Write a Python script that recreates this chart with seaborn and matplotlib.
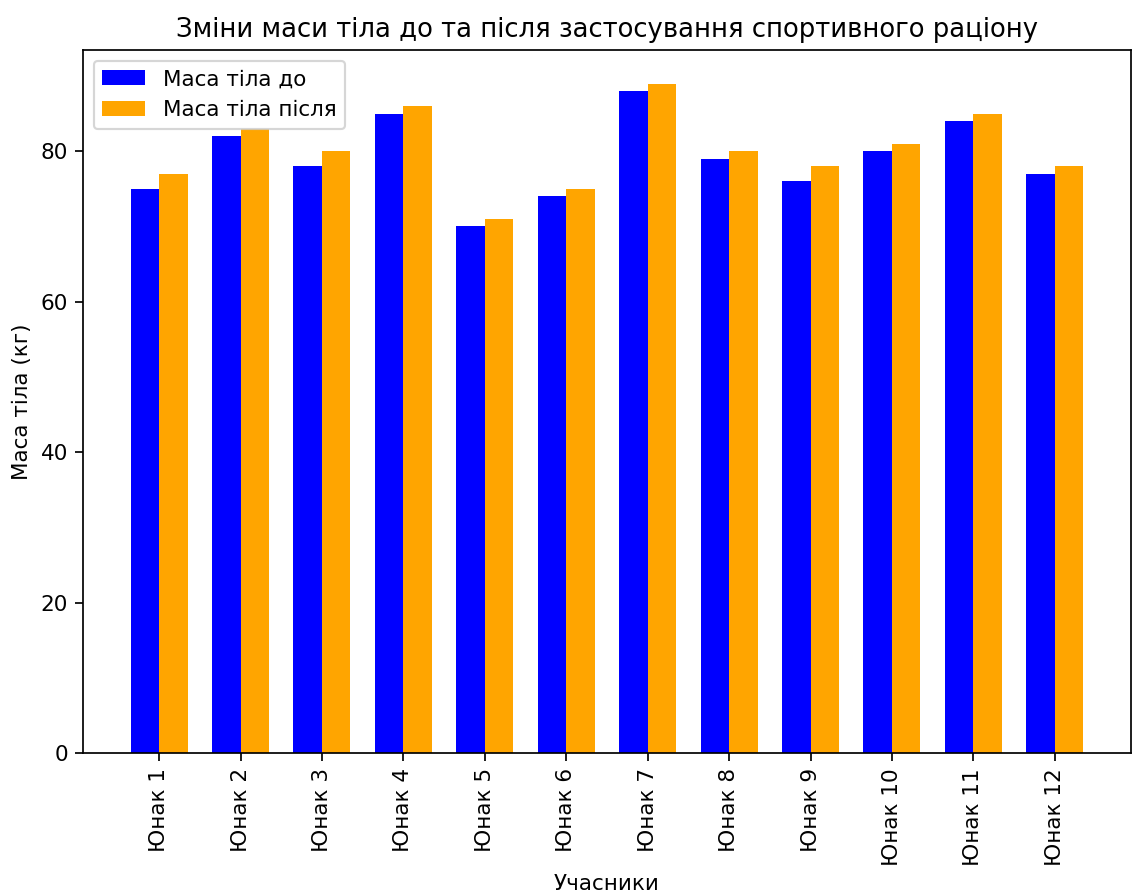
import pandas as pd
import matplotlib
matplotlib.use("Agg")
import matplotlib.pyplot as plt
import seaborn as sns

# Дані: маса тіла учасників до та після раціону
participants = [f'Юнак {i}' for i in range(1, 13)]
mass_before = [75, 82, 78, 85, 70, 74, 88, 79, 76, 80, 84, 77]
mass_after = [77, 83, 80, 86, 71, 75, 89, 80, 78, 81, 85, 78]

df = pd.DataFrame({
    'Учасник': participants * 2,
    'Маса': mass_before + mass_after,
    'Період': ['Маса тіла до'] * len(participants) + ['Маса тіла після'] * len(participants),
})

DPI = 155
fig = plt.figure(figsize=(1136 / DPI, 895 / DPI), dpi=DPI)
ax = fig.add_axes([0.073, 0.1587, 0.9226, 0.7853])

sns.barplot(data=df, x='Учасник', y='Маса', hue='Період',
            palette=['blue', 'orange'], width=0.7, saturation=1, ax=ax)

# звичайні поля як у matplotlib
ax.autoscale(axis='x')

leg = ax.get_legend()
handles = leg.legend_handles
labels = [t.get_text() for t in leg.texts]
ax.legend(handles, labels, loc='upper left')

ax.set_title('Зміни маси тіла до та після застосування спортивного раціону')
ax.set_xlabel('Учасники')
ax.set_ylabel('Маса тіла (кг)')
ax.tick_params(axis='x', rotation=90)

fig.savefig('out.png', dpi=DPI)
